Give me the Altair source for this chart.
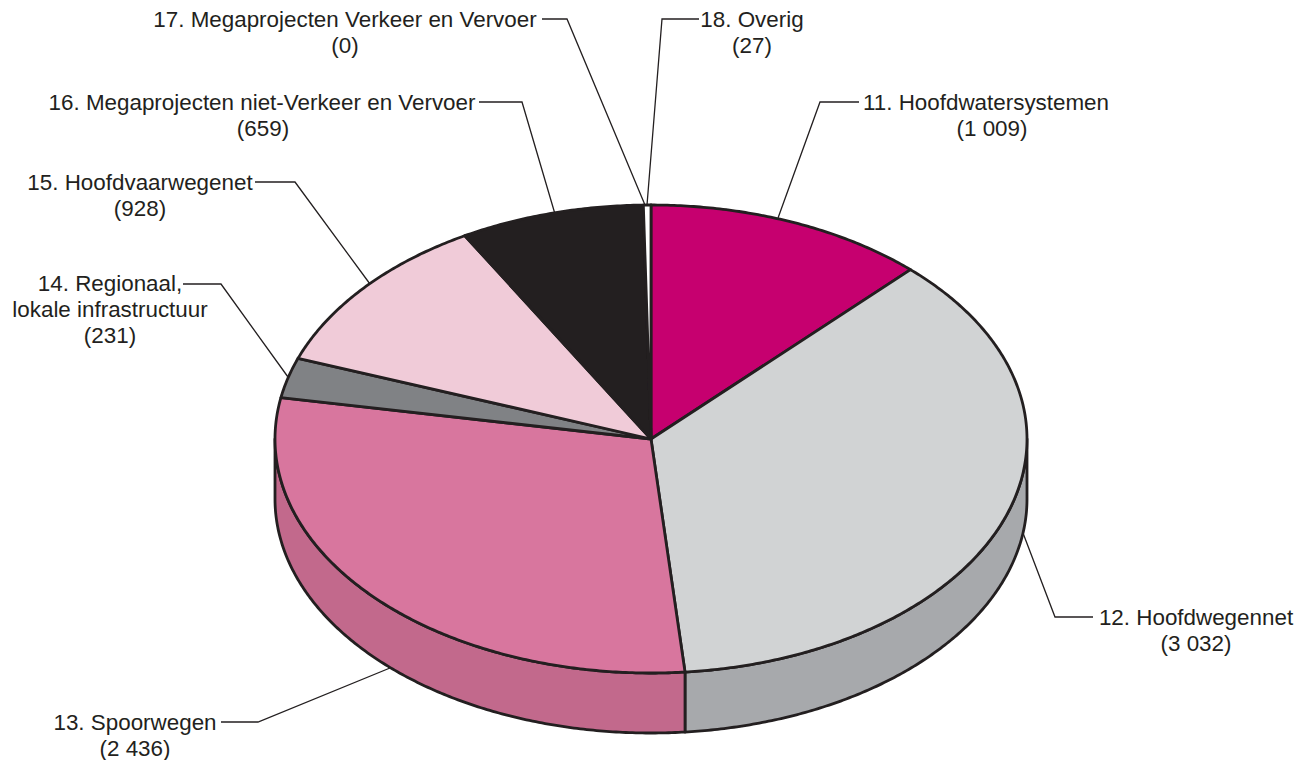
import math
import altair as alt
import pandas as pd

categories = ["11", "12", "13", "14", "15", "16", "17", "18"]
values = [1009, 3032, 2436, 231, 928, 659, 0, 27]
top_colors = ["#c6006f", "#d1d3d4", "#d8769e", "#808285", "#f0cbd8", "#231f20", "#231f20", "#ffffff"]
side_colors = {"12": "#a7a9ac", "13": "#c2698c"}

# Ellipse of the tilted pie, in page pixels
CX, CY, RX, RY, DEPTH = 651.0, 439.0, 376.0, 234.0, 60.0
INK = "#231f20"
FONT = "Liberation Sans"
FS = 22.4

leader_paths = {
    "11": [(859, 102), (820, 102), (778, 218)],
    "12": [(1093, 617), (1055, 617), (1023, 533)],
    "13": [(221, 722), (258, 722), (390, 668)],
    "14": [(183, 284), (221, 284), (288, 377)],
    "15": [(255, 182), (295, 182), (370, 284)],
    "16": [(479, 102), (522, 102), (555, 214)],
    "17": [(542, 19), (567, 19), (645, 205)],
    "18": [(699, 19), (662, 19), (647, 205)],
}
label_lines = [
    ("17. Megaprojecten Verkeer en Vervoer", 345, 20),
    ("(0)", 345, 46),
    ("16. Megaprojecten niet-Verkeer en Vervoer", 262, 103),
    ("(659)", 263, 129),
    ("15. Hoofdvaarwegenet", 140, 183),
    ("(928)", 140, 209),
    ("14. Regionaal,", 110, 284),
    ("lokale infrastructuur", 110, 310),
    ("(231)", 110, 336),
    ("13. Spoorwegen", 135, 723),
    ("(2 436)", 135, 749),
    ("12. Hoofdwegennet", 1196, 618),
    ("(3 032)", 1196, 644),
    ("11. Hoofdwatersystemen", 986, 103),
    ("(1 009)", 992, 129),
    ("18. Overig", 752, 20),
    ("(27)", 752, 46),
]

total = sum(values)


def pt(theta_deg, dy=0.0):
    t = math.radians(theta_deg)
    return CX + RX * math.sin(t), CY - RY * math.cos(t) + dy


def arc(a, b, dy=0.0):
    n = max(2, int(abs(b - a) * 2) + 1)
    return [pt(a + (b - a) * i / (n - 1), dy) for i in range(n)]


bounds = {}
cum = 0
for c, v in zip(categories, values):
    bounds[c] = (cum / total * 360, (cum + v) / total * 360)
    cum += v

top_rows, side_rows, leader_rows = [], [], []
for c in categories:
    a, b = bounds[c]
    poly = [(CX, CY)] + arc(a, b)
    for i, (x, y) in enumerate(poly):
        top_rows.append({"piece": c, "seq": i, "x": x, "y": y})

side_spans = {"12": (90, bounds["12"][1]), "13": (bounds["13"][0], 270)}
for c, (a, b) in side_spans.items():
    poly = arc(a, b) + arc(b, a, DEPTH)
    for i, (x, y) in enumerate(poly):
        side_rows.append({"piece": c, "seq": i, "x": x, "y": y})

for c, path in leader_paths.items():
    for i, (x, y) in enumerate(path):
        leader_rows.append({"piece": c, "seq": i, "x": x, "y": y})

x_enc = alt.X("x:Q", axis=None, scale=alt.Scale(domain=[8, 1294], nice=False, zero=False))
y_enc = alt.Y("y:Q", axis=None, scale=alt.Scale(domain=[760, 8], nice=False, zero=False))


def poly_layer(rows, domain, colors):
    return (
        alt.Chart(pd.DataFrame(rows))
        .mark_line(interpolate="linear-closed", stroke=INK, strokeWidth=2.8, strokeJoin="round")
        .encode(
            x=x_enc,
            y=y_enc,
            order="seq:Q",
            detail="piece:N",
            fill=alt.Fill("piece:N", scale=alt.Scale(domain=domain, range=colors), legend=None),
        )
    )


sides = poly_layer(side_rows, list(side_colors), list(side_colors.values()))
tops = poly_layer(top_rows, categories, top_colors)
leaders = (
    alt.Chart(pd.DataFrame(leader_rows))
    .mark_line(stroke=INK, strokeWidth=1.3)
    .encode(x=x_enc, y=y_enc, order="seq:Q", detail="piece:N")
)
labels = (
    alt.Chart(pd.DataFrame(label_lines, columns=["t", "x", "y"]))
    .mark_text(font=FONT, fontSize=FS, color=INK, align="center", baseline="middle")
    .encode(x=x_enc, y=y_enc, text="t:N")
)

chart = (
    alt.layer(leaders, sides, tops, labels)
    .resolve_scale(fill="independent")
    .properties(width=1286, height=752, padding=0, background="white", autosize=alt.AutoSizeParams(type="none"))
    .configure_view(stroke=None)
)
chart.save("out.html", embed_options={"renderer": "svg", "actions": False})
